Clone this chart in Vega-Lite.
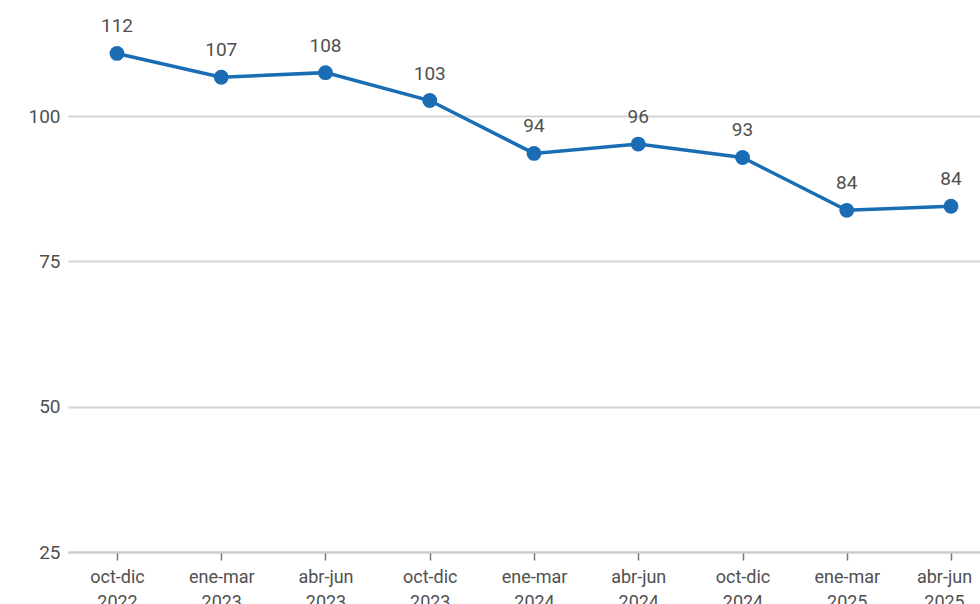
{
  "$schema": "https://vega.github.io/schema/vega-lite/v6.json",
  "autosize": {"type": "none"},
  "width": 932,
  "height": 552,
  "padding": {"left": 68, "top": 0, "right": 0, "bottom": 52},
  "background": "white",
  "config": {
    "view": {"stroke": null},
    "font": "Roboto"
  },
  "data": {
    "values": [
      {"periodo": "oct-dic 2022", "valor": 110.8, "etiqueta": "112"},
      {"periodo": "ene-mar 2023", "valor": 106.7, "etiqueta": "107"},
      {"periodo": "abr-jun 2023", "valor": 107.5, "etiqueta": "108"},
      {"periodo": "oct-dic 2023", "valor": 102.7, "etiqueta": "103"},
      {"periodo": "ene-mar 2024", "valor": 93.6, "etiqueta": "94"},
      {"periodo": "abr-jun 2024", "valor": 95.2, "etiqueta": "96"},
      {"periodo": "oct-dic 2024", "valor": 92.9, "etiqueta": "93"},
      {"periodo": "ene-mar 2025", "valor": 83.8, "etiqueta": "84"},
      {"periodo": "abr-jun 2025", "valor": 84.5, "etiqueta": "84"}
    ]
  },
  "encoding": {
    "x": {
      "field": "periodo",
      "type": "ordinal",
      "sort": null,
      "scale": {"type": "point", "padding": 0.47},
      "axis": {
        "title": null,
        "labelAngle": 0,
        "labelExpr": "split(datum.label, ' ')",
        "labelFont": "Roboto",
        "labelFontSize": 18,
        "labelColor": "#505050",
        "labelPadding": 8,
        "labelLineHeight": 25,
        "labelBound": false,
        "labelOverlap": false,
        "labelOffset": {"condition": {"test": "datum.value == 'abr-jun 2025'", "value": -7}, "value": 0},
        "domain": true,
        "domainColor": "#cccccc",
        "domainWidth": 2,
        "ticks": true,
        "tickColor": "#777777",
        "tickSize": 8,
        "tickWidth": 1.5,
        "grid": false
      }
    },
    "y": {
      "field": "valor",
      "type": "quantitative",
      "scale": {"domain": [25, 120], "nice": false, "zero": false},
      "axis": {
        "title": null,
        "values": [25, 50, 75, 100],
        "labelFont": "Roboto",
        "labelFontSize": 19,
        "labelColor": "#505050",
        "labelPadding": 8,
        "domain": false,
        "ticks": false,
        "grid": true,
        "gridColor": "#d4d4d4",
        "gridWidth": 2
      }
    }
  },
  "layer": [
    {
      "mark": {"type": "line", "color": "#1a6db5", "strokeWidth": 3.5}
    },
    {
      "mark": {"type": "point", "filled": true, "color": "#1a6db5", "size": 220, "opacity": 1}
    },
    {
      "mark": {"type": "text", "dy": -27, "fontSize": 19, "color": "#505050", "font": "Roboto"},
      "encoding": {"text": {"field": "etiqueta"}}
    }
  ]
}
